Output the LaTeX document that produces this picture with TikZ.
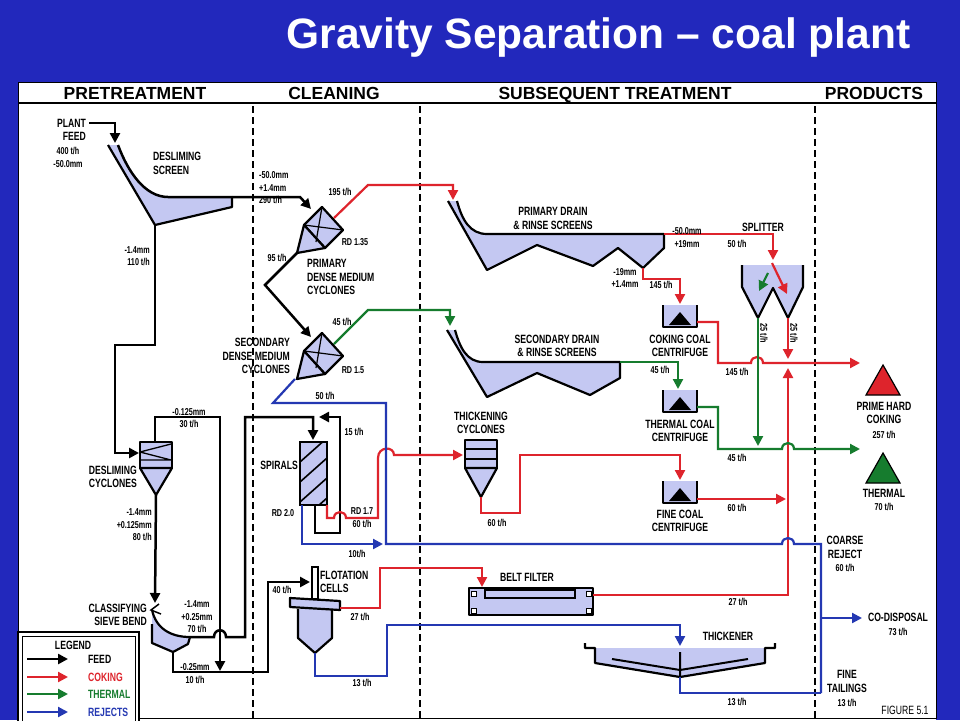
\documentclass[tikz,border=0pt]{standalone}
\usepackage{fontspec}
\setmainfont{Liberation Sans}
\newfontfamily\lbl[FakeStretch=0.72]{Liberation Sans}
\usetikzlibrary{arrows.meta}
\definecolor{bgblue}{RGB}{34,40,188}
\definecolor{cokred}{RGB}{222,36,44}
\definecolor{thgreen}{RGB}{22,124,46}
\definecolor{rejblue}{RGB}{36,56,178}
\definecolor{slurry}{RGB}{196,200,242}
\tikzset{
  feed/.style={line width=2.5pt,black},
  coke/.style={line width=2.2pt,cokred},
  therm/.style={line width=2.2pt,thgreen},
  rej/.style={line width=2.2pt,rejblue},
  arr/.style={-{Triangle[length=10pt,width=10pt]}},
  vessel/.style={line width=2.2pt,fill=slurry,line join=round},
  lab/.style={font=\lbl\bfseries\fontsize{12}{13.5}\selectfont,inner sep=0pt},
  flow/.style={font=\lbl\bfseries\fontsize{10}{12.5}\selectfont,inner sep=0pt},
  hdr/.style={font=\bfseries\fontsize{17.5}{17.5}\selectfont,inner sep=0pt,anchor=base},
  ttl/.style={font=\bfseries\fontsize{42.5}{42.5}\selectfont,inner sep=0pt,anchor=base},
}
\begin{document}
\begin{tikzpicture}[x=1pt,y=-1pt]
	\useasboundingbox (0,0) rectangle (960,720);
	% Background and title
	\fill[bgblue] (0,0) rectangle (960,720);
	\node[ttl,text=white] (title) at (598.5,48) {Gravity Separation – coal plant};
	% Panel and column heads
	\fill[white] (18,82) rectangle (936,720);
	\draw[line width=1pt] (18,82) rectangle (936,718);
	\draw[line width=1.6pt] (18,103) -- (936,103);
	\foreach \x in {253,420,815}
		\draw[line width=1.3pt,dash pattern=on 7pt off 4pt] (\x,106) -- (\x,718);
	\node[hdr] (hpre) at (135,99) {PRETREATMENT};
	\node[hdr] (hclean) at (334,99) {CLEANING};
	\node[hdr] (hsub) at (615,99) {SUBSEQUENT TREATMENT};
	\node[hdr] (hprod) at (874,99) {PRODUCTS};

	% Desliming screen
	\fill[slurry] (108,145) -- (155,225) -- (232,207) -- (232,197) -- (168,197) .. controls (145,197) and (128,172) .. (118,145) -- cycle;
	\draw[line width=2.2pt,line join=round] (108,145) -- (155,225) -- (232,207) -- (232,197);
	\draw[feed] (118,145) .. controls (128,172) and (145,197) .. (168,197) -- (232,197);
	% Dense medium cyclones
	\foreach \dy in {0,126} {
		\begin{scope}[shift={(0,\dy)}]
			\draw[vessel] (322,207) -- (343,230) -- (325,248) -- (304,225) -- cycle;
			\draw[vessel] (304,225) -- (297,253) -- (325,248) -- cycle;
			\draw[line width=1.2pt] (304,225) -- (343,230) (322,207) -- (316,242);
		\end{scope}
	}
	% Desliming cyclones
	\draw[vessel] (140,442) rectangle (172,468);
	\draw[vessel] (140,468) -- (156,495) -- (172,468) -- cycle;
	\draw[line width=1.3pt] (140,452) -- (171,444) (140,452) -- (171,460) (140,460) -- (172,460);
	% Classifying sieve bend
	\fill[slurry] (152,612) .. controls (156,628) and (170,637) .. (190,637) -- (188,644) -- (173,652) -- (152,643) -- cycle;
	\draw[line width=2.2pt,line join=round] (152,624) -- (152,643) -- (173,652) -- (188,644) -- (190,637);
	\draw[line width=2.2pt] (152,610) .. controls (156,628) and (170,637) .. (190,637);
	\draw[line width=1.5pt] (159,604) -- (151,610) -- (161,614);
	% Spirals
	\fill[slurry] (300,442) rectangle (327,505);
	\begin{scope}
		\clip (300,442) rectangle (327,505);
		\foreach \yy in {462,482,502,522}
			\draw[line width=1.6pt] (300,\yy) -- (327,\yy-24);
	\end{scope}
	\draw[line width=2.2pt] (300,442) rectangle (327,505);
	% Flotation cells
	\draw[line width=1.6pt,fill=white] (312,567) rectangle (318,599);
	\draw[vessel] (298,609) -- (298,638) -- (315,653) -- (332,638) -- (332,609);
	\draw[vessel] (290,598) -- (340,601) -- (340,610) -- (290,607) -- cycle;
	% Drain and rinse screens
	\fill[slurry] (448,201) -- (487,270) -- (537,245) -- (593,266) -- (618,248) -- (643,268) -- (664,248) -- (664,234) -- (487,234) .. controls (470,234) and (462,220) .. (457,201) -- cycle;
	\draw[line width=2.2pt,line join=round] (448,201) -- (487,270) -- (537,245) -- (593,266) -- (618,248) -- (643,268) -- (664,248) -- (664,234);
	\draw[line width=2.2pt] (457,201) .. controls (462,220) and (470,234) .. (487,234) -- (664,234);
	\fill[slurry] (447,330) -- (487,397) -- (537,373) -- (590,395) -- (620,378) -- (620,362) -- (483,362) .. controls (467,362) and (460,348) .. (455,330) -- cycle;
	\draw[line width=2.2pt,line join=round] (447,330) -- (487,397) -- (537,373) -- (590,395) -- (620,378) -- (620,362);
	\draw[line width=2.2pt] (455,330) .. controls (460,348) and (467,362) .. (483,362) -- (620,362);
	% Thickening cyclones
	\draw[vessel] (465,440) rectangle (497,468);
	\draw[vessel] (465,468) -- (481,497) -- (497,468) -- cycle;
	\draw[line width=1.4pt] (465,449) -- (497,449) (465,459) -- (497,459);
	% Centrifuges
	\foreach \t in {305,390,481} {
		\fill[slurry] (663,\t) rectangle (697,\t+22);
		\draw[line width=2.2pt,line join=round] (663,\t) -- (663,\t+22) -- (697,\t+22) -- (697,\t);
		\fill (669,\t+20) -- (680,\t+7) -- (691,\t+20) -- cycle;
	}
	% Splitter
	\fill[slurry] (742,265) -- (742,287) -- (758,318) -- (773,288) -- (788,318) -- (803,287) -- (803,265) -- cycle;
	\draw[line width=2.2pt,line join=round] (742,265) -- (742,287) -- (758,318) -- (773,288) -- (788,318) -- (803,287) -- (803,265);
	% Belt filter
	\draw[vessel] (469,588) rectangle (593,615);
	\draw[line width=1.6pt] (485,590) rectangle (575,598);
	\foreach \cx/\cy in {471/591,471/608,586/591,586/608}
		\draw[line width=1pt,fill=white] (\cx,\cy) rectangle +(5,5);
	% Thickener
	\fill[slurry] (595,648) -- (595,663) -- (680,677) -- (765,663) -- (765,648) -- cycle;
	\draw[line width=2.2pt,line join=round] (585,643) -- (585,648) -- (595,648) -- (595,663) -- (680,677) -- (765,663) -- (765,648) -- (775,648) -- (775,643);
	\draw[line width=2pt] (612,659) -- (680,670) -- (748,659) (680,652) -- (680,677);
	% Product heaps
	\draw[line width=1.2pt,fill=cokred] (883,365) -- (900,395) -- (866,395) -- cycle;
	\draw[line width=1.2pt,fill=thgreen] (883,453) -- (900,483) -- (866,483) -- cycle;

	% Ports
	\coordinate (feedin) at (89,123);
	\coordinate (scrin) at (115,143);
	\coordinate (scrvtx) at (155,225);
	\coordinate (scrlip) at (232,197);
	\coordinate (pdmcin) at (311,209);
	\coordinate (pdmcover) at (334,218);
	\coordinate (pdmcapex) at (297,253);
	\coordinate (sdmcin) at (311,337);
	\coordinate (sdmcover) at (334,344);
	\coordinate (sdmcapex) at (295,379);
	\coordinate (dcin) at (139,453);
	\coordinate (dctop) at (155,442);
	\coordinate (dcapex) at (156,495);
	\coordinate (sbin) at (155,603);
	\coordinate (sbover) at (190,637);
	\coordinate (sbunder) at (173,652);
	\coordinate (spin) at (313,440);
	\coordinate (spbotL) at (302,505);
	\coordinate (spbotM) at (315,505);
	\coordinate (spbotR) at (327,505);
	\coordinate (flin) at (310,582);
	\coordinate (flover) at (340,608);
	\coordinate (flapex) at (315,653);
	\coordinate (thkin) at (463,455);
	\coordinate (thkapex) at (481,497);
	\coordinate (pdsin) at (453,200);
	\coordinate (pdsend) at (664,234);
	\coordinate (pdsvtx) at (643,268);
	\coordinate (sdsin) at (450,326);
	\coordinate (sdsend) at (620,362);
	\coordinate (ccin) at (680,304);
	\coordinate (ccout) at (697,322);
	\coordinate (tcin) at (678,389);
	\coordinate (tcout) at (697,407);
	\coordinate (fcin) at (680,480);
	\coordinate (fcout) at (697,499);
	\coordinate (splin) at (773,260);
	\coordinate (splL) at (758,318);
	\coordinate (splR) at (788,318);
	\coordinate (bfin) at (482,587);
	\coordinate (bfout) at (593,595);
	\coordinate (thnin) at (680,646);
	\coordinate (thnout) at (680,677);
	\coordinate (cokeout) at (860,363);
	\coordinate (thermout) at (860,449);
	\coordinate (codisp) at (862,618);

	% Feed streams
	\draw[feed,arr] (feedin) -| (scrin);
	\draw[feed,arr] (scrlip) -- (300,197) -- (pdmcin);
	\draw[feed,arr] (scrvtx) |- (115,345) |- (dcin);
	\draw[feed,arr] (pdmcapex) -- (265,285) -- (sdmcin);
	\draw[feed,arr] (dctop) |- (220,417) -- (220,671);
	\draw[feed,arr] (dcapex) -- (sbin);
	\draw[feed,arr] (sbunder) |- (268,672) |- (flin);
	\draw[feed,arr] (sbover) -- (214,637) .. controls (214,628) and (226,628) .. (226,637) -- (245,637) -- (245,417) -| (spin);
	\draw[feed,arr] (spbotM) |- (340,533) |- (319,417);
	% Coking streams
	\draw[coke,arr] (pdmcover) -- (368,185) -| (pdsin);
	\draw[coke,arr] (spbotR) |- (334,518) .. controls (334,510) and (346,510) .. (346,518) -- (378,518) -- (378,458) .. controls (378,446) and (394,446) .. (394,455) -- (thkin);
	\draw[coke,arr] (thkapex) |- (520,513) |- (680,455) -- (fcin);
	\draw[coke,arr] (flover) -| (380,568) -| (bfin);
	\draw[coke,arr] (pdsend) -| (splin);
	\draw[coke,arr] (pdsvtx) |- (680,279) -- (ccin);
	\draw[coke,arr] (772,263) -- (787,294);
	\draw[coke,arr] (ccout) -| (718,363) -- (751,363) .. controls (751,355) and (763,355) .. (763,363) -- (cokeout);
	\draw[coke,arr] (splR) -- (788,359);
	\draw[coke,arr] (fcout) -- (786,499);
	\draw[coke,arr] (bfout) -| (788,368);
	% Thermal streams
	\draw[therm,arr] (sdmcover) -- (368,310) -| (sdsin);
	\draw[therm,arr] (sdsend) -| (tcin);
	\draw[therm,arr] (768,273) -- (759,291);
	\draw[therm,arr] (splL) -- (758,446);
	\draw[therm,arr] (tcout) -| (718,449) -- (782,449) .. controls (782,441) and (794,441) .. (794,449) -- (thermout);
	% Reject streams
	\draw[rej,arr] (spbotL) |- (383,544);
	\draw[rej] (sdmcapex) -- (273,403) -| (386,544) -- (782,544) .. controls (782,536) and (794,536) .. (794,544) -| (821,693);
	\draw[rej,arr] (flapex) |- (387,676) |- (680,625) -- (thnin);
	\draw[rej] (thnout) |- (821,693);
	\draw[rej,arr] (821,618) -- (codisp);

	% Labels: pretreatment
	\node[lab,align=right,anchor=east] (plantfeed) at (86,130) {PLANT\\FEED};
	\node[flow,align=center] (feedrate) at (68,157.5) {400 t/h\\-50.0mm};
	\node[lab,align=left,anchor=west] (dsscreen) at (153,163.5) {DESLIMING\\SCREEN};
	\node[flow,align=right,anchor=east] (scrunder) at (150,256) {-1.4mm\\110 t/h};
	\node[lab,align=right,anchor=east] (dscyc) at (137,477) {DESLIMING\\CYCLONES};
	\node[flow,align=center] (dcover) at (189,418) {-0.125mm\\30 t/h};
	\node[flow,align=right,anchor=east] (dcunder) at (152,525) {-1.4mm\\+0.125mm\\80 t/h};
	\node[lab,align=right,anchor=east] (sbend) at (147,615) {CLASSIFYING\\SIEVE BEND};
	\node[flow,align=center] (sbovertxt) at (197,617) {-1.4mm\\+0.25mm\\70 t/h};
	\node[flow,align=center] (sbundertxt) at (195,673.5) {-0.25mm\\10 t/h};
	% Labels: cleaning
	\node[flow,align=left,anchor=west] (pdmcfeed) at (259,188) {-50.0mm\\+1.4mm\\290 t/h};
	\node[flow] (pdmcrate) at (340,192) {195 t/h};
	\node[flow] (pdmcrd) at (355,242) {RD 1.35};
	\node[lab,align=left,anchor=west] (pdmc) at (307,277) {PRIMARY\\DENSE MEDIUM\\CYCLONES};
	\node[flow] (pdmcunder) at (277,258) {95 t/h};
	\node[lab,align=right,anchor=east] (sdmc) at (290,356) {SECONDARY\\DENSE MEDIUM\\CYCLONES};
	\node[flow] (sdmcrate) at (342,322) {45 t/h};
	\node[flow] (sdmcrd) at (353,370) {RD 1.5};
	\node[flow] (sdmcunder) at (325,396) {50 t/h};
	\node[lab,anchor=east] (spirals) at (298,465) {SPIRALS};
	\node[flow] (sprecycle) at (354,432) {15 t/h};
	\node[flow] (sprd) at (283,513) {RD 2.0};
	\node[flow,align=center] (spcoke) at (362,517.5) {RD 1.7\\60 t/h};
	\node[flow] (sprej) at (357,554) {10t/h};
	\node[flow] (flfeed) at (282,590) {40 t/h};
	\node[lab,align=left,anchor=west] (flot) at (320,582) {FLOTATION\\CELLS};
	\node[flow] (flcoke) at (360,617) {27 t/h};
	\node[flow] (flrej) at (362,683) {13 t/h};
	% Labels: subsequent treatment
	\node[lab,align=center] (pds) at (553,218.5) {PRIMARY DRAIN\\\& RINSE SCREENS};
	\node[lab,align=center] (sds) at (557,346) {SECONDARY DRAIN\\\& RINSE SCREENS};
	\node[flow,align=center] (pdsover) at (687,237.5) {-50.0mm\\+19mm};
	\node[flow] (splrate) at (737,244) {50 t/h};
	\node[lab] (splitter) at (763,227) {SPLITTER};
	\node[flow,align=center] (pdsunder) at (625,278) {-19mm\\+1.4mm};
	\node[flow] (ccrate) at (661,285) {145 t/h};
	\node[lab,align=center] (ccent) at (680,346) {COKING COAL\\CENTRIFUGE};
	\node[flow] (sdsrate) at (660,370) {45 t/h};
	\node[lab,align=center] (tcent) at (680,431) {THERMAL COAL\\CENTRIFUGE};
	\node[lab,align=center] (thk) at (481,423) {THICKENING\\CYCLONES};
	\node[flow] (thkrate) at (497,523) {60 t/h};
	\node[lab,align=center] (fcent) at (680,521) {FINE COAL\\CENTRIFUGE};
	\node[flow,rotate=-90] (splLrate) at (764,333) {25 t/h};
	\node[flow,rotate=-90] (splRrate) at (794,333) {25 t/h};
	\node[flow] (ccoutrate) at (737,372) {145 t/h};
	\node[flow] (tcoutrate) at (737,458) {45 t/h};
	\node[flow] (fcoutrate) at (737,508) {60 t/h};
	\node[flow] (bfrate) at (738,602) {27 t/h};
	\node[lab] (belt) at (527,577) {BELT FILTER};
	\node[lab] (thickener) at (728,636) {THICKENER};
	\node[flow] (thnrate) at (737,702) {13 t/h};
	% Labels: products
	\node[lab,align=center] (phc) at (884,413) {PRIME HARD\\COKING};
	\node[flow] (phcrate) at (884,435) {257 t/h};
	\node[lab] (thermal) at (884,493) {THERMAL};
	\node[flow] (thermrate) at (884,507) {70 t/h};
	\node[lab,align=center] (coarse) at (845,547.5) {COARSE\\REJECT};
	\node[flow] (coarserate) at (845,568) {60 t/h};
	\node[lab] (codisptxt) at (898,617) {CO-DISPOSAL};
	\node[flow] (codisprate) at (898,632) {73 t/h};
	\node[lab,align=center] (tailings) at (847,681.5) {FINE\\TAILINGS};
	\node[flow] (tailrate) at (847,703) {13 t/h};
	\node[lab,font=\lbl\fontsize{12}{13.5}\selectfont] (figure) at (905,710) {FIGURE 5.1};

	% Legend
	\draw[line width=2pt,fill=white] (18,632) rectangle (139,722);
	\draw[line width=0.8pt] (22,636) rectangle (135,722);
	\node[lab] (legend) at (73,645) {LEGEND};
	\foreach \yy/\st/\txt/\c in {659/feed/FEED/black,677/coke/COKING/cokred,694/therm/THERMAL/thgreen,712/rej/REJECTS/rejblue} {
		\draw[\st,arr] (27,\yy) -- (68,\yy);
		\node[lab,anchor=west,text=\c] (leg\txt) at (88,\yy) {\txt};
	}
\end{tikzpicture}
\end{document}
